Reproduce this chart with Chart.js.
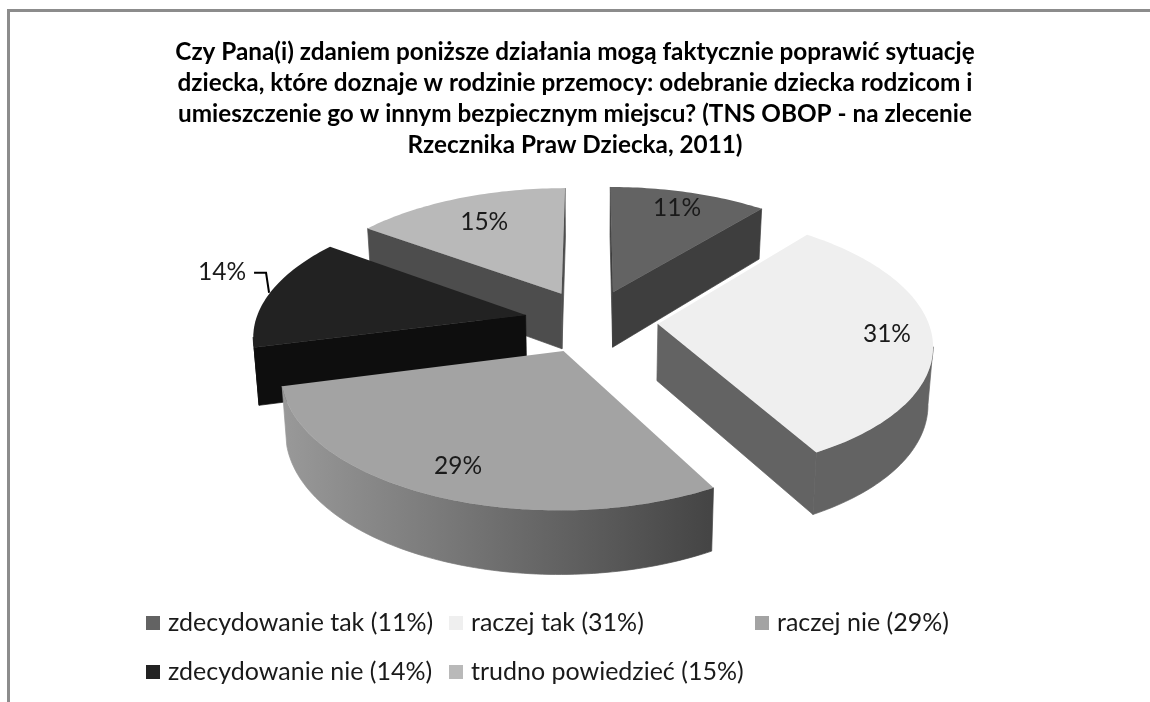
<!DOCTYPE html>
<html>
<head>
<meta charset="utf-8">
<script src="https://cdn.jsdelivr.net/npm/chart.js@4"></script>
<style>
  html, body { margin: 0; padding: 0; background: #fff; overflow: hidden; }
  #frame { position: absolute; left: 7px; top: 9px; right: -10px; bottom: -10px; border: 3px solid #8c8c8c; }
  #wrap { position: absolute; left: 0; top: 0; width: 1150px; height: 702px; }
</style>
</head>
<body>
<div id="frame"></div>
<div id="wrap"><canvas id="pie"></canvas></div>
<script>
// Chart data
const titleLines = [
  'Czy Pana(i) zdaniem poniższe działania mogą faktycznie poprawić sytuację',
  'dziecka, które doznaje w rodzinie przemocy: odebranie dziecka rodzicom i',
  'umieszczenie go w innym bezpiecznym miejscu? (TNS OBOP - na zlecenie',
  'Rzecznika Praw Dziecka, 2011)'
];
const categories = ['zdecydowanie tak (11%)', 'raczej tak (31%)', 'raczej nie (29%)', 'zdecydowanie nie (14%)', 'trudno powiedzieć (15%)'];
const values = [11, 31, 29, 14, 15];

// Colours: top face, then side walls (a pair means a left to right gradient)
const topColors = ['#636363', '#efefef', '#a3a3a3', '#222222', '#b9b9b9'];
const wallColors = ['#3e3e3e', '#636363', ['#999999', '#444444'], '#0e0e0e', '#4d4d4d'];

// Where the value label sits along the slice's middle, as a share of the radius
const labelReach = [0.826, 0.837, 0.82, 1.196, 0.73];

// Look of the tilted pie
const center = { x: 591, y: 321 };
const persp = 0.000522;
const squash = 0.4724;
const FONT = 'Lato, Carlito, "Open Sans", sans-serif';

// Ground plane of the pie -> screen. u is sideways, v is towards the viewer
function project(u, v, lower) {
  const w = 1 - persp * v;
  const x = u / w;
  const y = squash * v / w;
  if (!lower) return { x: center.x + x, y: center.y + y };
  const depth = 56.5 + v * 0.023;
  return { x: center.x + x * 0.985, y: center.y + y + depth };
}

function outline(ctx, pts) {
  ctx.beginPath();
  pts.forEach((p, i) => (i ? ctx.lineTo(p.x, p.y) : ctx.moveTo(p.x, p.y)));
  ctx.closePath();
}

// Fill the wall hanging under a run of top edge points
function fillWall(ctx, run, ground, color) {
  if (run.length < 2) return;
  const lowerPts = ground.map(g => project(g.u, g.v, true)).reverse();
  outline(ctx, run.concat(lowerPts));
  if (Array.isArray(color)) {
    const xs = run.map(p => p.x);
    const grad = ctx.createLinearGradient(Math.min(...xs), 0, Math.max(...xs), 0);
    grad.addColorStop(0, color[0]);
    grad.addColorStop(1, color[1]);
    ctx.fillStyle = grad;
    ctx.strokeStyle = grad;
  } else {
    ctx.fillStyle = color;
    ctx.strokeStyle = color;
  }
  ctx.fill();
  // hides the hairline between two walls of one slice
  ctx.lineWidth = 0.7;
  ctx.stroke();
}

// Draws the arcs Chart.js laid out as tilted, exploded 3D slices
const pie3d = {
  id: 'pie3d',
  beforeDatasetDraw(chart) {
    const ctx = chart.ctx;
    const arcs = chart.getDatasetMeta(0).data;
    const slices = arcs.map((arc, i) => {
      const a0 = arc.startAngle + Math.PI / 2;
      const a1 = arc.endAngle + Math.PI / 2;
      const mid = (a0 + a1) / 2;
      const off = arc.options.offset;
      const apex = { u: off * Math.sin(mid), v: -off * Math.cos(mid) };
      const rim = [];
      const steps = Math.ceil((a1 - a0) / 0.02);
      for (let s = 0; s <= steps; s++) {
        const a = a0 + (a1 - a0) * s / steps;
        rim.push({ u: apex.u + arc.outerRadius * Math.sin(a), v: apex.v - arc.outerRadius * Math.cos(a) });
      }
      return { i, apex, rim };
    });

    // Far slices first so the near ones cover them
    slices.slice().sort((a, b) => a.apex.v - b.apex.v).forEach(({ i, apex, rim }) => {
      const ground = [apex, ...rim];
      const pts = ground.map(g => project(g.u, g.v));
      const color = wallColors[i];

      // A wall shows only where the clockwise edge runs right to left
      const n = pts.length;
      if (pts[1].x < pts[0].x) fillWall(ctx, [pts[0], pts[1]], [ground[0], ground[1]], color);
      if (pts[0].x < pts[n - 1].x) fillWall(ctx, [pts[n - 1], pts[0]], [ground[n - 1], ground[0]], color);
      let from = -1;
      for (let k = 1; k < n; k++) {
        const facing = k < n - 1 && pts[k + 1].x < pts[k].x;
        if (facing && from < 0) from = k;
        if (!facing && from >= 0) {
          fillWall(ctx, pts.slice(from, k + 1), ground.slice(from, k + 1), color);
          from = -1;
        }
      }

      outline(ctx, pts);
      ctx.fillStyle = topColors[i];
      ctx.fill();
    });
    return false; // the flat arcs are replaced by the 3D ones
  },
  afterDatasetsDraw(chart) {
    const ctx = chart.ctx;
    ctx.save();
    ctx.font = '24.5px ' + FONT;
    ctx.fillStyle = '#1a1a1a';
    ctx.textAlign = 'center';
    ctx.textBaseline = 'middle';
    chart.getDatasetMeta(0).data.forEach((arc, i) => {
      const mid = (arc.startAngle + arc.endAngle) / 2 + Math.PI / 2;
      const dist = arc.options.offset + arc.outerRadius * labelReach[i];
      const p = project(dist * Math.sin(mid), -dist * Math.cos(mid));
      // the 14% label sits outside the slice, on a short leader line
      const outside = labelReach[i] > 1;
      const y = outside ? p.y - 16 : p.y;
      ctx.fillText(values[i] + '%', p.x, y);
      if (outside) {
        ctx.beginPath();
        ctx.moveTo(p.x + 32, y + 1);
        ctx.lineTo(p.x + 44, y + 1);
        ctx.lineTo(p.x + 47, y + 21);
        ctx.strokeStyle = '#000';
        ctx.lineWidth = 2;
        ctx.stroke();
      }
    });
    ctx.restore();
  },
  // Excel lines its legend up in columns, the built-in legend can't do that
  afterDraw(chart) {
    const ctx = chart.ctx;
    const cols = [146, 449, 755];
    const rows = [623, 672];
    ctx.save();
    ctx.font = '25px ' + FONT;
    ctx.textBaseline = 'middle';
    categories.forEach((label, i) => {
      const x = cols[i % 3];
      const y = rows[Math.floor(i / 3)];
      ctx.fillStyle = topColors[i];
      ctx.fillRect(x, y - 7, 14, 14);
      ctx.fillStyle = '#1a1a1a';
      ctx.fillText(label, x + 22, y);
    });
    ctx.restore();
  }
};

new Chart(document.getElementById('pie'), {
  type: 'pie',
  data: {
    labels: categories,
    datasets: [{ data: values, backgroundColor: topColors, borderWidth: 0, offset: 67 }]
  },
  options: {
    responsive: true,
    maintainAspectRatio: false,
    animation: false,
    radius: 270,
    events: [],
    plugins: {
      legend: { display: false },
      tooltip: { enabled: false },
      title: {
        display: true,
        text: titleLines,
        color: '#000',
        font: { family: FONT, size: 24.3, weight: 'bold', lineHeight: 1.276 },
        padding: { top: 37, bottom: 0 }
      }
    }
  },
  plugins: [pie3d]
});
</script>
</body>
</html>
